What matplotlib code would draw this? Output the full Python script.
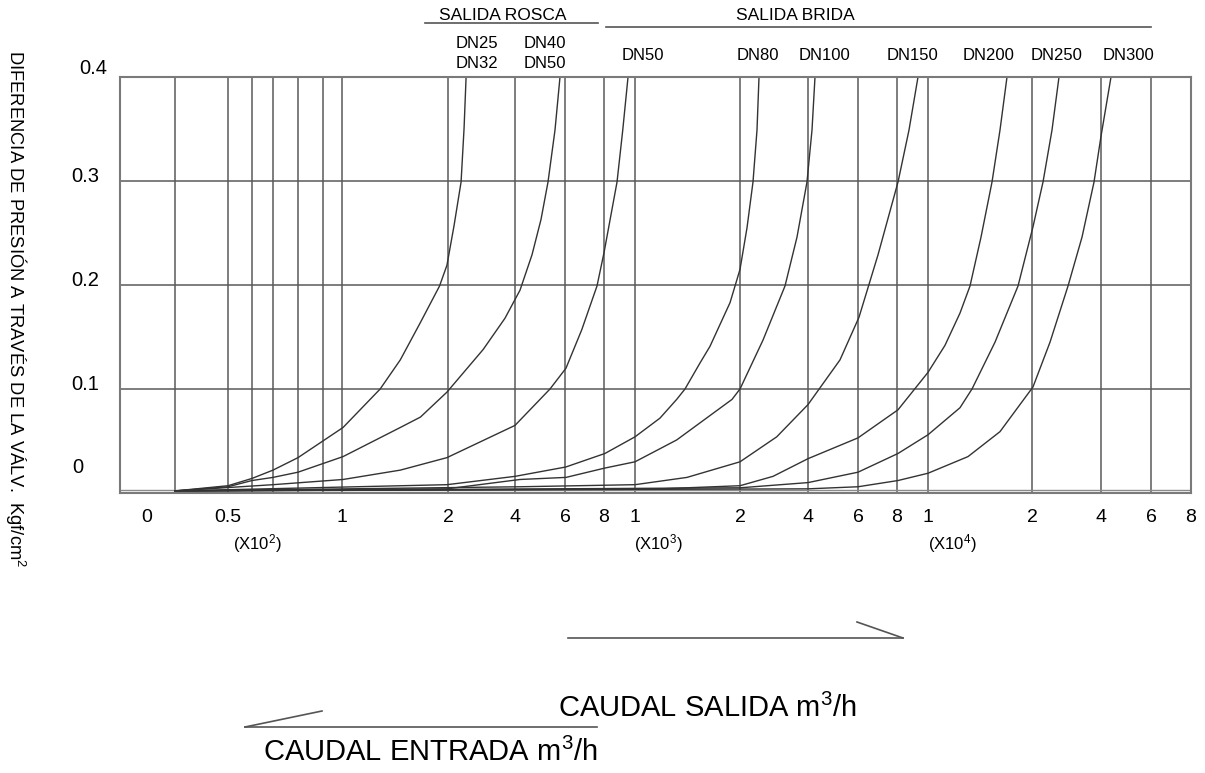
import numpy as np
import matplotlib.pyplot as plt
from matplotlib.lines import Line2D

plt.rcParams['font.family'] = ['Liberation Sans', 'DejaVu Sans']
plt.rcParams['mathtext.fontset'] = 'custom'
plt.rcParams['mathtext.rm'] = 'Liberation Sans'
plt.rcParams['mathtext.it'] = 'Liberation Sans:italic'

# Curvas de pérdida de carga (caudal m3/h, presión kgf/cm2)
caudal_dn25 = [25, 50, 60, 70, 80, 101, 136, 155, 174, 192, 199, 218, 239, 248, 254]
presion_dn25 = [0.002, 0.007, 0.014, 0.022, 0.034, 0.063, 0.100, 0.128, 0.164, 0.199, 0.219, 0.257, 0.299, 0.351, 0.400]

caudal_dn40 = [25, 50, 60, 70, 80, 101, 155, 174, 199, 305, 370, 420, 468, 504, 532, 560, 580]
presion_dn40 = [0.002, 0.006, 0.012, 0.015, 0.020, 0.035, 0.063, 0.073, 0.097, 0.138, 0.168, 0.195, 0.229, 0.263, 0.299, 0.349, 0.400]

caudal_dn50 = [25, 70, 101, 155, 199, 400, 540, 605, 686, 764, 800, 884, 921, 955]
presion_dn50 = [0.002, 0.008, 0.013, 0.022, 0.034, 0.065, 0.100, 0.120, 0.157, 0.199, 0.231, 0.299, 0.349, 0.400]

caudal_dn80 = [25, 199, 400, 604, 806, 1000, 1238, 1397, 1476, 1619, 1714, 1905, 2000, 2206, 2382, 2500, 2559]
presion_dn80 = [0.002, 0.008, 0.016, 0.025, 0.038, 0.054, 0.072, 0.090, 0.100, 0.125, 0.141, 0.183, 0.215, 0.255, 0.299, 0.349, 0.400]

caudal_dn100 = [25, 199, 420, 605, 806, 1000, 1397, 1924, 2000, 2676, 3323, 3676, 3970, 4160, 4280]
presion_dn100 = [0.002, 0.004, 0.013, 0.015, 0.024, 0.030, 0.051, 0.090, 0.100, 0.147, 0.199, 0.246, 0.299, 0.349, 0.400]

caudal_dn150 = [25, 420, 1000, 1495, 2000, 3080, 4000, 5280, 6051, 7026, 8065, 8774, 9355]
presion_dn150 = [0.002, 0.006, 0.008, 0.015, 0.030, 0.054, 0.085, 0.128, 0.169, 0.229, 0.299, 0.349, 0.400]

caudal_dn200 = [25, 1238, 2000, 2971, 4000, 6000, 8065, 10000, 11635, 13077, 14038, 15096, 16154, 16923, 17596]
presion_dn200 = [0.002, 0.004, 0.007, 0.016, 0.033, 0.053, 0.080, 0.116, 0.142, 0.173, 0.199, 0.246, 0.299, 0.349, 0.400]

caudal_dn250 = [25, 2000, 4000, 6000, 8065, 10000, 13077, 14231, 16442, 18654, 20290, 23189, 25798, 27827]
presion_dn250 = [0.002, 0.005, 0.010, 0.020, 0.038, 0.056, 0.082, 0.100, 0.145, 0.199, 0.256, 0.299, 0.349, 0.400]

caudal_dn300 = [25, 4000, 6000, 8065, 10000, 13846, 16923, 20290, 25218, 30436, 34495, 37974, 40000, 44000]
presion_dn300 = [0.002, 0.004, 0.006, 0.012, 0.019, 0.035, 0.059, 0.102, 0.145, 0.199, 0.246, 0.299, 0.343, 0.400]

# Escala horizontal dibujada a mano (caudal -> posición en píxeles)
escala_caudal = [0, 25, 50, 60, 70, 80, 90, 100, 200, 400, 600, 800, 1000,
                 2000, 4000, 6000, 8000, 10000, 20000, 40000, 60000, 80000]
escala_pos = [120, 175, 228, 252, 273, 298, 323, 342, 448, 515, 565, 604, 635,
              740, 808, 858, 897, 928, 1032, 1101, 1151, 1191]

lineas_v = escala_caudal[1:-1]
lineas_h = [0.1, 0.2, 0.3]
linea_base = 0.003

valores_x = [50, 100, 200, 400, 600, 800, 1000, 2000, 4000, 6000, 8000,
             10000, 20000, 40000, 60000, 80000]
etiquetas_x = ['0.5', '1', '2', '4', '6', '8', '1', '2', '4', '6', '8',
               '1', '2', '4', '6', '8']
valores_y = [0.4, 0.3, 0.2, 0.1, 0.0]
etiquetas_y = ['0.4', '0.3', '0.2', '0.1', '0']

W, H = 1205, 773


def fxy(px, py):
    return px / W, 1 - py / H


def adelante(x):
    return np.interp(x, escala_caudal, escala_pos)


def atras(p):
    return np.interp(p, escala_pos, escala_caudal)


fig = plt.figure(figsize=(W / 100, H / 100), dpi=100)
ax = fig.add_axes([120 / W, 1 - 493 / H, (1191 - 120) / W, (493 - 77) / H])
ax.set_xscale('function', functions=(adelante, atras))
ax.set_xlim(0, 80000)
ax.set_ylim(0, 0.4)

gris = '#5a5a5a'
ax.vlines(lineas_v, 0, 0.4, color=gris, lw=1.1)
ax.hlines(lineas_h, 0, 80000, color=gris, lw=1.1)
ax.axhline(linea_base, color='#8a8a8a', lw=1.0)

curvas = [
    (caudal_dn25, presion_dn25), (caudal_dn40, presion_dn40),
    (caudal_dn50, presion_dn50), (caudal_dn80, presion_dn80),
    (caudal_dn100, presion_dn100), (caudal_dn150, presion_dn150),
    (caudal_dn200, presion_dn200), (caudal_dn250, presion_dn250),
    (caudal_dn300, presion_dn300),
]
for q, p in curvas:
    ax.plot(q, p, color='#333333', lw=1.0)

for s in ax.spines.values():
    s.set_color('#7a7a7a')
    s.set_linewidth(1.5)

ax.set_xticks([])
ax.set_yticks([])

# etiquetas del eje x
for v, t in zip(valores_x, etiquetas_x):
    ax.annotate(t, xy=(v, 0), xytext=(0, -24), textcoords='offset pixels',
                ha='center', va='center', fontsize=14)
ax.annotate('0', xy=(0, 0), xytext=(27, -24), textcoords='offset pixels',
            ha='center', va='center', fontsize=14)

# etiquetas del eje y
desp_y = [9, 5, 5, 4, 25]
desp_x = [-41, -49, -49, -49, -48]
for v, t, dy, dx in zip(valores_y, etiquetas_y, desp_y, desp_x):
    ax.annotate(t, xy=(0, v), xytext=(dx, dy), textcoords='offset pixels',
                ha='left', va='center', fontsize=14.5)

for px, t in [(257, r'(X10$^{2}$)'), (658, r'(X10$^{3}$)'), (952, r'(X10$^{4}$)')]:
    fig.text(*fxy(px, 544), t, ha='center', va='center', fontsize=12)

# rótulos de diámetros
fig.text(*fxy(477, 44), 'DN25', ha='center', va='center', fontsize=12)
fig.text(*fxy(477, 63), 'DN32', ha='center', va='center', fontsize=12)
fig.text(*fxy(545, 44), 'DN40', ha='center', va='center', fontsize=12)
fig.text(*fxy(545, 63), 'DN50', ha='center', va='center', fontsize=12)
for px, t in [(643, 'DN50'), (758, 'DN80'), (825, 'DN100'), (913, 'DN150'),
              (989, 'DN200'), (1057, 'DN250'), (1128, 'DN300')]:
    fig.text(*fxy(px, 55), t, ha='center', va='center', fontsize=12)

fig.text(*fxy(503, 15), 'SALIDA ROSCA', ha='center', va='center', fontsize=12.5)
fig.text(*fxy(795, 15), 'SALIDA BRIDA', ha='center', va='center', fontsize=12.5)


def segmento(x0, y0, x1, y1, lw=1.2):
    a, b = fxy(x0, y0)
    c, d = fxy(x1, y1)
    fig.add_artist(Line2D([a, c], [b, d], color='#555555', lw=lw))


segmento(425, 23, 598, 23)
segmento(606, 27, 1151, 27)

fig.text(*fxy(16, 309), 'DIFERENCIA DE PRESIÓN A TRAVÉS DE LA VÁLV.  Kgf/cm$^{2}$',
         rotation=270, ha='center', va='center', fontsize=13.2)

# flechas de caudal
segmento(568, 638, 903, 638)
segmento(857, 622, 903, 638)
fig.text(*fxy(558, 708), 'CAUDAL SALIDA m$^{3}$/h', ha='left', va='center', fontsize=21)
segmento(245, 727, 597, 727)
segmento(245, 727, 322, 711)
fig.text(*fxy(263, 752), 'CAUDAL ENTRADA m$^{3}$/h', ha='left', va='center', fontsize=21)

fig.savefig('out.png', dpi=100)
